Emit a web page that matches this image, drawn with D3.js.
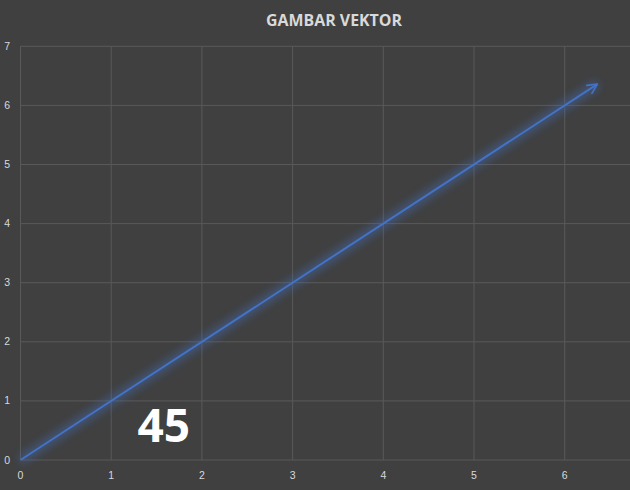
<!DOCTYPE html>
<html><head><meta charset="utf-8">
<script src="https://cdn.jsdelivr.net/npm/d3@7"></script>
<style>body{margin:0;background:#404040;} svg{display:block;}</style>
</head><body>
<svg id="c" width="630" height="490"></svg>
<script>
const title = "GAMBAR VEKTOR";
const xTicks = [0,1,2,3,4,5,6];
const yTicks = [0,1,2,3,4,5,6,7];
const vectorX = [0, 6.36];
const vectorY = [0, 6.36];
const angleLabel = "45";
const labelPos = [1.58, 0.3];

const svg = d3.select("#c");
svg.append("rect").attr("width",630).attr("height",490).attr("fill","#404040");
const x = d3.scaleLinear().domain([0,7]).range([20.5, 655.4]);
const y = d3.scaleLinear().domain([0,7]).range([460, 46.3]);

const defs = svg.append("defs");
const f = defs.append("filter").attr("id","glow").attr("x","-20%").attr("y","-20%").attr("width","140%").attr("height","140%");
f.append("feGaussianBlur").attr("stdDeviation",4).attr("result","b");
defs.append("marker").attr("id","arr").attr("viewBox","0 0 10 10").attr("refX",9).attr("refY",5)
  .attr("markerWidth",6).attr("markerHeight",6).attr("markerUnits","strokeWidth").attr("orient","auto")
  .append("path").attr("d","M1,1 L9,5 L1,9").attr("fill","none").attr("stroke","#4472C4").attr("stroke-width",1.4).attr("stroke-linecap","round").attr("stroke-linejoin","round");

const g = svg.append("g");
g.selectAll(".hg").data(yTicks).join("line").attr("x1",x(0)).attr("x2",630)
  .attr("y1",d=>y(d)).attr("y2",d=>y(d)).attr("stroke","#595959").attr("stroke-width",1);
g.selectAll(".vg").data(xTicks).join("line").attr("x1",d=>x(d)).attr("x2",d=>x(d))
  .attr("y1",y(0)).attr("y2",y(7)).attr("stroke","#595959").attr("stroke-width",1);

svg.selectAll(".yl").data(yTicks).join("text").attr("x",10).attr("y",d=>y(d)+3.5)
  .attr("text-anchor","end").attr("fill","#d9d9d9").attr("font-family","Liberation Sans, Arial, sans-serif").attr("font-size",10.5).text(d=>d);
svg.selectAll(".xl").data(xTicks).join("text").attr("x",d=>x(d)).attr("y",479)
  .attr("text-anchor","middle").attr("fill","#d9d9d9").attr("font-family","Liberation Sans, Arial, sans-serif").attr("font-size",10.5).text(d=>d);

const pts = vectorX.map((d,i)=>[d, vectorY[i]]);
const line = d3.line().x(d=>x(d[0])).y(d=>y(d[1]));
svg.append("path").attr("d",line(pts)).attr("stroke","#4472C4").attr("stroke-width",8).attr("stroke-opacity",0.5)
  .attr("fill","none").attr("filter","url(#glow)");
svg.append("path").attr("d",line(pts)).attr("stroke","#4472C4").attr("stroke-width",2)
  .attr("fill","none").attr("marker-end","url(#arr)");

svg.append("text").attr("x",334).attr("y",26).attr("text-anchor","middle").attr("fill","#d9d9d9")
  .attr("font-family","Open Sans, sans-serif").attr("font-weight","bold").attr("font-size",16).attr("textLength",136).attr("lengthAdjust","spacingAndGlyphs").text(title);
svg.append("text").attr("x",x(labelPos[0])).attr("y",442).attr("text-anchor","middle").attr("fill","#ffffff")
  .attr("font-family","Open Sans, sans-serif").attr("font-weight","bold").attr("font-size",46).text(angleLabel);
</script>
</body></html>
